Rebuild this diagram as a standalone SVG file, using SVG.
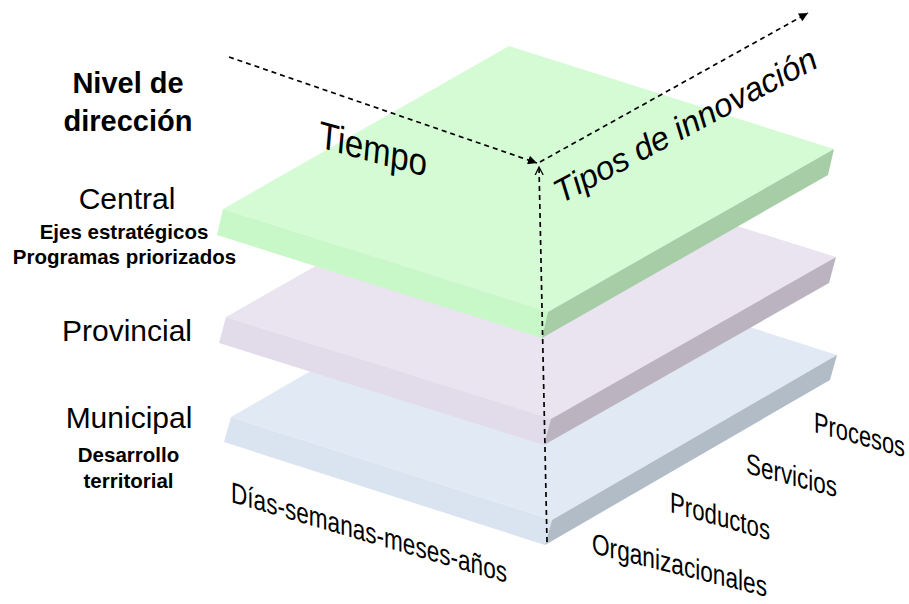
<svg xmlns="http://www.w3.org/2000/svg" width="909" height="604" viewBox="0 0 909 604">
<style>
text{font-family:"Liberation Sans",Arial,sans-serif;fill:#000}
.h{font-size:29px;font-weight:bold;text-anchor:middle}
.lv{font-size:30px;text-anchor:middle}
.sub{font-size:20.5px;font-weight:bold;text-anchor:middle}
.fl{font-size:29px}
.ax{fill:none;stroke:#000;stroke-width:1.7;stroke-dasharray:5 4}
</style>
<defs>
<marker id="fa" viewBox="0 0 10 10" refX="10" refY="5" markerUnits="userSpaceOnUse" markerWidth="10" markerHeight="9" orient="auto">
<path d="M0,0 L10,5 L0,10 z" fill="#000"/>
</marker>
<marker id="oa" viewBox="0 0 10 10" refX="9" refY="5" markerUnits="userSpaceOnUse" markerWidth="9" markerHeight="10" orient="auto">
<path d="M0,0.5 L9,5 L0,9.5" fill="none" stroke="#000" stroke-width="1.4"/>
</marker>
</defs>
<rect width="909" height="604" fill="#fff"/>

<g id="slab-municipal">
<polygon points="516,252 837,355 552,520 231,417" fill="#e1eaf4"/>
<polygon points="231,417 552,520 545,545 224,442" fill="#d9e4f0"/>
<polygon points="552,520 837,355 830,380 545,545" fill="#b2bcc6"/>
</g>
<g id="slab-provincial">
<polygon points="511,155 836,257 551,419 226,317" fill="#e9e4f0"/>
<polygon points="226,317 551,419 544,445 219,343" fill="#e2dbe9"/>
<polygon points="551,419 836,257 829,283 544,445" fill="#bcb3c1"/>
</g>
<g id="slab-central">
<polygon points="509,46 834,149 548,312 223,209" fill="#d5fbd5"/>
<polygon points="223,209 548,312 542,338 217,235" fill="#c8f7c8"/>
<polygon points="548,312 834,149 828,175 542,338" fill="#a6cda6"/>
</g>

<g id="connectors">
<line class="ax" x1="229" y1="57" x2="537" y2="163" marker-end="url(#fa)"/>
<line class="ax" x1="540" y1="162" x2="808" y2="13" marker-end="url(#fa)"/>
<line class="ax" x1="547" y1="542" x2="539" y2="167" marker-end="url(#oa)"/>
</g>

<g id="labels-left">
<text class="h" x="128" y="93">Nivel de</text>
<text class="h" x="128" y="131">dirección</text>
<text class="lv" x="127" y="209">Central</text>
<text class="sub" x="124" y="239">Ejes estratégicos</text>
<text class="sub" x="124.5" y="264">Programas priorizados</text>
<text class="lv" x="127" y="341">Provincial</text>
<text class="lv" x="129" y="428">Municipal</text>
<text class="sub" x="128.5" y="462">Desarrollo</text>
<text class="sub" x="128.5" y="488">territorial</text>
</g>

<g id="axis-labels">
<text transform="matrix(0.964,0.267,-0.087,0.996,318,147)" font-size="38" textLength="112" lengthAdjust="spacingAndGlyphs">Tiempo</text>
<text transform="translate(561,204) rotate(-28)" font-size="33" font-style="italic">Tipos de innovación</text>
<text class="fl" transform="matrix(1,0.293,0,1,231,502)" textLength="276" lengthAdjust="spacingAndGlyphs">Días-semanas-meses-años</text>
<text class="fl" transform="matrix(1,0.278,0,1,814,432)" textLength="91" lengthAdjust="spacingAndGlyphs">Procesos</text>
<text class="fl" transform="matrix(1,0.267,0,1,746,473)" textLength="91" lengthAdjust="spacingAndGlyphs">Servicios</text>
<text class="fl" transform="matrix(1,0.283,0,1,670,512)" textLength="100" lengthAdjust="spacingAndGlyphs">Productos</text>
<text class="fl" transform="matrix(1,0.25,0,1,592,553)" textLength="175" lengthAdjust="spacingAndGlyphs">Organizacionales</text>
</g>
</svg>
